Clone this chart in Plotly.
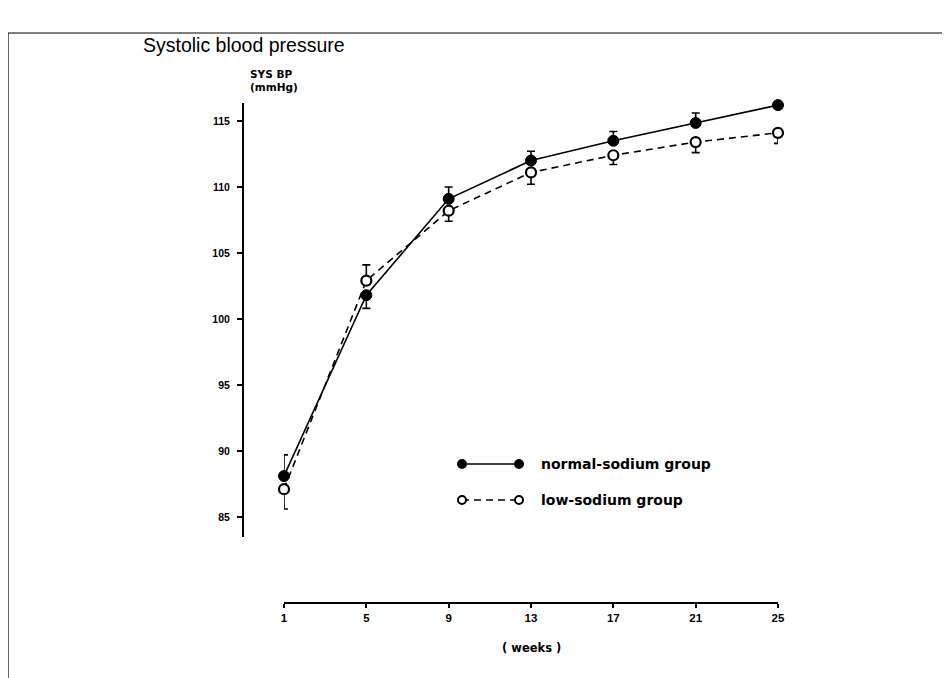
import plotly.graph_objects as go

# ---- data ----
weeks = [1, 5, 9, 13, 17, 21, 25]
normal_sodium = [88.1, 101.8, 109.1, 112.0, 113.5, 114.85, 116.2]
normal_err_up = [1.6, 0.0, 0.9, 0.7, 0.7, 0.75, 0.3]
normal_err_down = [0.0, 1.0, 0.0, 0.0, 0.0, 0.0, 0.0]
low_sodium = [87.1, 102.9, 108.2, 111.1, 112.4, 113.4, 114.1]
low_err_up = [0.0, 1.2, 0.0, 0.0, 0.0, 0.0, 0.0]
low_err_down = [1.5, 0.0, 0.8, 0.9, 0.7, 0.8, 0.8]
x_ticks = [1, 5, 9, 13, 17, 21, 25]
y_ticks = [85, 90, 95, 100, 105, 110, 115]

W, H = 950, 678
OFF = 8  # page body margin
L, R, T, B = 243, 778, 103, 603  # plot area pixel box on the page


def px(X):
    return (X - L) / (R - L)


def py(Y):
    return (B - Y) / (B - T)


TICKFONT = dict(family="Liberation Sans", size=10.5, color="black")
LBLFONT = dict(family="DejaVu Sans", size=14, color="black")

fig = go.Figure()

fig.add_trace(go.Scatter(
    x=weeks, y=low_sodium, mode="lines+markers", name="low-sodium group",
    line=dict(color="black", width=1.6, dash="7px,5px"),
    marker=dict(symbol="circle", size=10, color="white",
                line=dict(color="black", width=2.2)),
    error_y=dict(type="data", symmetric=False, array=low_err_up,
                 arrayminus=low_err_down, color="black", thickness=1.6, width=4),
    cliponaxis=False, showlegend=False,
))
fig.add_trace(go.Scatter(
    x=weeks, y=normal_sodium, mode="lines+markers", name="normal-sodium group",
    line=dict(color="black", width=1.6),
    marker=dict(symbol="circle", size=11, color="black",
                line=dict(color="black", width=1)),
    error_y=dict(type="data", symmetric=False, array=normal_err_up,
                 arrayminus=normal_err_down, color="black", thickness=1.6, width=4),
    cliponaxis=False, showlegend=False,
))

fig.update_layout(
    width=W, height=H,
    margin=dict(l=L - OFF, r=W - R + OFF, t=T - OFF, b=H - B + OFF),
    paper_bgcolor="white", plot_bgcolor="white",
    showlegend=False,
    xaxis=dict(
        domain=[px(284), 1], range=[1, 25], anchor="free", position=0,
        showline=True, linecolor="black", linewidth=2,
        ticks="outside", ticklen=4, tickwidth=1.5, tickcolor="black",
        tickvals=x_ticks, ticktext=["<b>%d</b>" % v for v in x_ticks],
        tickfont=dict(family="Liberation Sans", size=11.5, color="black"),
        showgrid=False, zeroline=False,
    ),
    yaxis=dict(
        domain=[py(537), 1], range=[83.48, 116.36], anchor="free", position=0,
        showline=True, linecolor="black", linewidth=2,
        ticks="outside", ticklen=5, tickwidth=1.5, tickcolor="black",
        tickvals=y_ticks, ticktext=["<b>%d</b>" % v for v in y_ticks],
        tickfont=TICKFONT, ticklabelstandoff=5,
        showgrid=False, zeroline=False,
    ),
)

ann = []
ann.append(dict(text="Systolic blood pressure", x=px(141), y=py(45), xref="paper", yref="paper",
                xanchor="left", yanchor="middle", showarrow=False,
                font=dict(family="Liberation Sans", size=19.5, color="black")))
ann.append(dict(text="<b>SYS BP</b>", x=px(248), y=py(74), xref="paper", yref="paper",
                xanchor="left", yanchor="middle", showarrow=False,
                font=dict(family="DejaVu Sans", size=10.5, color="black")))
ann.append(dict(text="<b>(mmHg)</b>", x=px(248), y=py(87), xref="paper", yref="paper",
                xanchor="left", yanchor="middle", showarrow=False,
                font=dict(family="DejaVu Sans", size=10.5, color="black")))
ann.append(dict(text="<b>( weeks )</b>", x=px(531), y=py(648), xref="paper", yref="paper",
                xanchor="center", yanchor="middle", showarrow=False,
                font=dict(family="DejaVu Sans", size=11.5, color="black")))
ann.append(dict(text="<b>normal-sodium group</b>", x=px(539), y=py(464), xref="paper", yref="paper",
                xanchor="left", yanchor="middle", showarrow=False, font=LBLFONT))
ann.append(dict(text="<b>low-sodium group</b>", x=px(539), y=py(500), xref="paper", yref="paper",
                xanchor="left", yanchor="middle", showarrow=False, font=LBLFONT))
fig.update_layout(annotations=ann)

shapes = []
# frame lines of the scanned page
shapes.append(dict(type="line", xref="paper", yref="paper", x0=px(8), x1=px(958),
                   y0=py(33), y1=py(33), line=dict(color="black", width=1.2)))
shapes.append(dict(type="line", xref="paper", yref="paper", x0=px(8), x1=px(8),
                   y0=py(33), y1=py(690), line=dict(color="black", width=1.2)))
# legend keys
shapes.append(dict(type="line", xref="paper", yref="paper", x0=px(462), x1=px(519),
                   y0=py(464), y1=py(464), line=dict(color="black", width=1.6)))
shapes.append(dict(type="line", xref="paper", yref="paper", x0=px(462), x1=px(519),
                   y0=py(500), y1=py(500), line=dict(color="black", width=1.6, dash="7px,5px")))
for cx, cy, fill in [(462, 464, "black"), (519, 464, "black"),
                     (462, 500, "white"), (519, 500, "white")]:
    shapes.append(dict(type="circle", xref="paper", yref="paper",
                       xsizemode="pixel", ysizemode="pixel",
                       xanchor=px(cx), yanchor=py(cy), x0=-4, x1=4, y0=-4, y1=4,
                       fillcolor=fill, line=dict(color="black", width=2)))
fig.update_layout(shapes=shapes)

fig.write_html("out.html")
